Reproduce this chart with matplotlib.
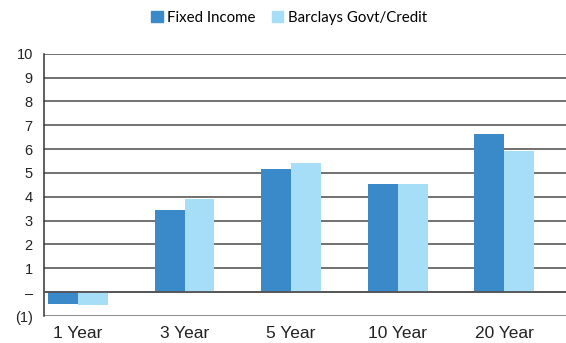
import numpy
import matplotlib
matplotlib.use("Agg")
import matplotlib.pyplot as plt
from matplotlib.patches import Patch

categories = ["1 Year", "3 Year", "5 Year", "10 Year", "20 Year"]
fixed_income = [-0.5, 3.43, 5.16, 4.53, 6.63]
barclays = [-0.55, 3.89, 5.41, 4.53, 5.94]
ytick_vals = [-1, 0, 1, 2, 3, 4, 5, 6, 7, 8, 9, 10]
ytick_labels = ["(1)", "\u2013", "1", "2", "3", "4", "5", "6", "7", "8", "9", "10"]

dark = "#3a89c9"
light = "#a6def7"

fig = plt.figure(figsize=(5.66, 3.43), dpi=100)
ax = fig.add_axes([0.0777, 0.0787, 0.9223, 0.7647])

x = numpy.arange(len(categories))
w = 0.28
ax.bar(x - w/2, fixed_income, w, color=dark, zorder=3)
ax.bar(x + w/2, barclays, w, color=light, zorder=3)

ax.set_xlim(-0.32, 4.58)
ax.set_ylim(-1, 10)

# horizontal rules
for v in ytick_vals[1:]:
    ax.axhline(v, color="#4a4a4a", lw=1.1, zorder=1)
ax.axhline(0, color="#555555", lw=1.3, zorder=4)
ax.axhline(-1, color="#8a8a8a", lw=1.4, zorder=1)

for s in ["top", "right", "bottom"]:
    ax.spines[s].set_visible(False)
ax.spines["left"].set_color("#333333")
ax.spines["left"].set_linewidth(1.1)

ax.set_yticks(ytick_vals)
ax.set_yticklabels(ytick_labels, family="Liberation Sans", fontsize=10.5, color="#222222")
ax.set_xticks(x)
ax.set_xticklabels(categories, family="Liberation Sans", fontsize=12.5, color="#222222")
ax.tick_params(axis="y", length=0, pad=8)
ax.tick_params(axis="x", length=0, pad=7)

handles = [Patch(color=dark, label="Fixed Income"), Patch(color=light, label="Barclays Govt/Credit")]
fig.legend(handles=handles, loc="center", bbox_to_anchor=(0.511, 0.947), ncol=2, frameon=False,
           prop={"family": "Lato", "size": 10.8}, handlelength=0.75, handleheight=0.75,
           handletextpad=0.3, columnspacing=1.1)

plt.savefig("out.png", dpi=100)
plt.close()
